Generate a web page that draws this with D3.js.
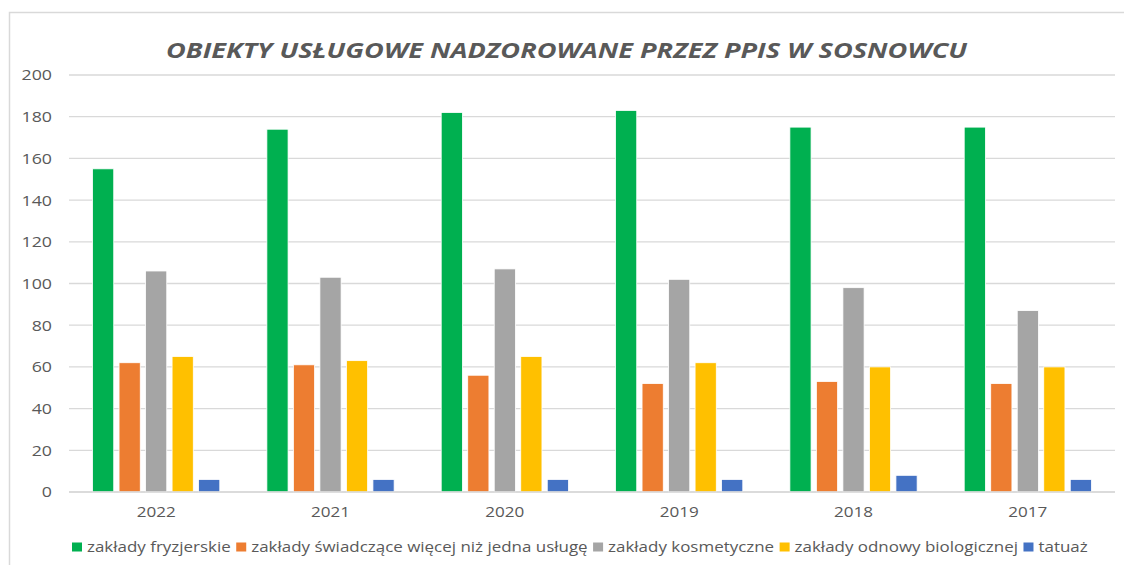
<!DOCTYPE html>
<html>
<head>
<meta charset="utf-8">
<script src="https://cdn.jsdelivr.net/npm/d3@7"></script>
<style>
html,body{margin:0;padding:0;background:#fff;}
svg{display:block;}
</style>
</head>
<body>
<svg id="chart" width="1124" height="565"></svg>
<script>
const years = ["2022","2021","2020","2019","2018","2017"];
const seriesNames = ["zakłady fryzjerskie","zakłady świadczące więcej niż jedna usługę","zakłady kosmetyczne","zakłady odnowy biologicznej","tatuaż"];
const seriesColors = ["#00B050","#ED7D31","#A5A5A5","#FFC000","#4472C4"];
const fryzjerskie = [155,174,182,183,175,175];
const wiecejNizJedna = [62,61,56,52,53,52];
const kosmetyczne = [106,103,107,102,98,87];
const odnowy = [65,63,65,62,60,60];
const tatuaz = [6,6,6,6,8,6];
const yTicks = [0,20,40,60,80,100,120,140,160,180,200];
const title = "OBIEKTY USŁUGOWE NADZOROWANE PRZEZ PPIS W SOSNOWCU";

(function(){
const seriesValues = [fryzjerskie, wiecejNizJedna, kosmetyczne, odnowy, tatuaz];
const data = years.map((yr,i)=>({year:yr, values: seriesValues.map((s,j)=>({key:j, value:s[i]}))}));

const svg = d3.select("#chart");
const font = "Open Sans, sans-serif";
const textColor = "#595959";

function stretch(sel, k){
  sel.each(function(){
    const w = this.getComputedTextLength();
    d3.select(this).attr("textLength", w*k).attr("lengthAdjust","spacingAndGlyphs");
  });
}

svg.append("rect").attr("x",9.5).attr("y",12.5).attr("width",1130).attr("height",570)
  .attr("fill","#fff").attr("stroke","#d9d9d9").attr("stroke-width",1.5);

const pL = 69, pR = 1115, pT = 75, pB = 492;
const x0 = d3.scaleBand().domain(years).range([pL,pR]).paddingInner(0.27).paddingOuter(0.135);
const x1 = d3.scaleBand().domain(d3.range(seriesNames.length)).range([0,x0.bandwidth()]).paddingInner(0.2);
const y = d3.scaleLinear().domain([0,200]).range([pB,pT]);

svg.append("g").selectAll("line").data(yTicks).join("line")
  .attr("x1",pL).attr("x2",pR)
  .attr("y1",d=>y(d)).attr("y2",d=>y(d))
  .attr("stroke","#d9d9d9").attr("stroke-width",1.3);

const yAxis = d3.axisLeft(y).tickValues(yTicks).tickSize(0).tickPadding(0);
const yg = svg.append("g").attr("transform",`translate(52,0)`).call(yAxis);
yg.select(".domain").remove();
yg.selectAll("text").attr("fill",textColor).style("font-family",font).style("font-size","14px").attr("dy","0.35em");
stretch(yg.selectAll("text"), 1.27);

const groups = svg.append("g").selectAll("g").data(data).join("g")
  .attr("transform",d=>`translate(${x0(d.year)},0)`);
groups.selectAll("rect").data(d=>d.values).join("rect")
  .attr("x",d=>x1(d.key)).attr("width",x1.bandwidth())
  .attr("y",d=>y(d.value)).attr("height",d=>y(0)-y(d.value))
  .attr("fill",d=>seriesColors[d.key])
  .attr("stroke","#fff").attr("stroke-width",0.8);

svg.append("line").attr("x1",pL).attr("x2",pR).attr("y1",y(0)).attr("y2",y(0))
  .attr("stroke","#d9d9d9").attr("stroke-width",1.3);

const xAxis = d3.axisBottom(x0).tickSize(0).tickPadding(0);
const xg = svg.append("g").attr("transform",`translate(0,${pB+20})`).call(xAxis);
xg.select(".domain").remove();
xg.selectAll("text").attr("fill",textColor).style("font-family",font).style("font-size","14px").attr("dy","0.35em");
stretch(xg.selectAll("text"), 1.22);

svg.append("text").attr("x",566.5).attr("y",58).attr("text-anchor","middle")
  .attr("fill",textColor).style("font-family",font).style("font-size","21px")
  .style("font-weight","bold").style("font-style","italic")
  .attr("textLength",801).attr("lengthAdjust","spacingAndGlyphs").text(title);

const legend = svg.append("g").attr("transform","translate(72,547)");
let lx = 0;
seriesNames.forEach((name,i)=>{
  const g = legend.append("g").attr("transform",`translate(${lx},0)`);
  g.append("rect").attr("x",0).attr("y",-4.5).attr("width",10).attr("height",9).attr("fill",seriesColors[i]);
  const t = g.append("text").attr("x",15).attr("y",0).attr("dy","0.35em")
    .attr("fill",textColor).style("font-family",font).style("font-size","14px").text(name);
  stretch(t, 1.21);
  lx += 15 + (+t.attr("textLength")) + 5.5;
});
})();
</script>
</body>
</html>
